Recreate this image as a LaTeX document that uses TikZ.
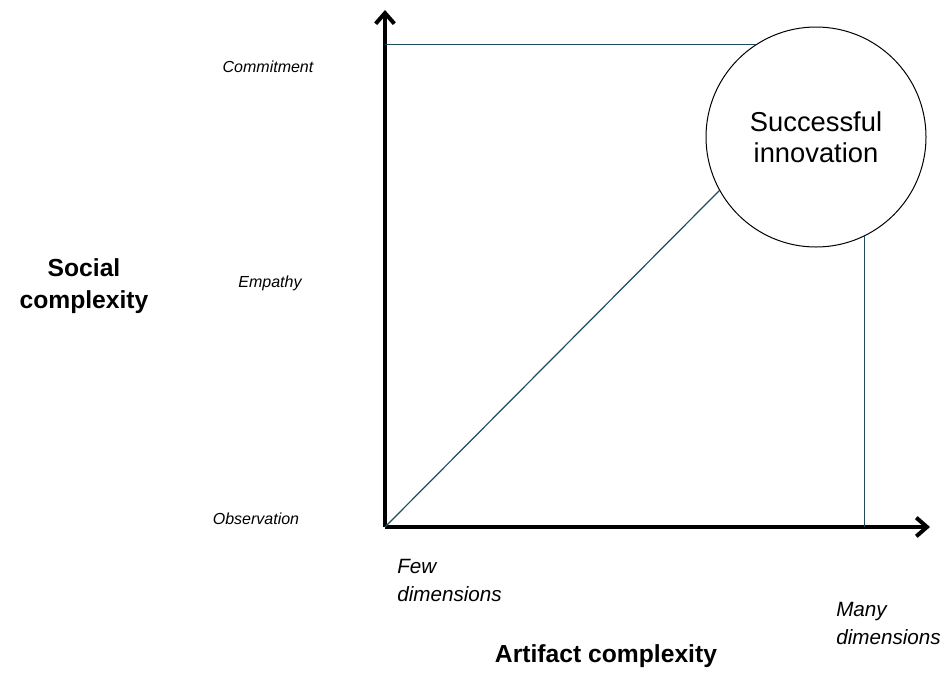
\documentclass[tikz,border=0pt]{standalone}
\usepackage{fontspec}
\setmainfont{Liberation Sans}
\usepackage{xcolor}
\usetikzlibrary{arrows.meta}
\usetikzlibrary{positioning}

\definecolor{lineteal}{RGB}{31,76,94}

\begin{document}
\begin{tikzpicture}[
			x=0.75pt, y=-0.75pt,
			axis/.style={line width=3pt, -{Straight Barb[length=8pt, width=14pt]}},
			guide/.style={line width=0.9pt, lineteal},
			level/.style={font=\fontsize{12}{15}\selectfont\itshape, inner sep=0pt},
			extent/.style={font=\fontsize{15.5}{21}\selectfont\itshape, inner sep=0pt, align=left, anchor=west},
			title/.style={font=\fontsize{18.5}{24}\selectfont\bfseries, align=center, inner sep=0pt}
		]

		\useasboundingbox (0,0) rectangle (949,672);

		% axes
		\coordinate (o) at (385,527);
		\coordinate (ytip) at (385,10);
		\coordinate (xtip) at (930,527);
		\draw[axis] (o) -- (ytip);
		\draw[axis] (o) -- (xtip);

		% goal circle
		\node[circle, draw, line width=0.75pt, minimum size=165pt, inner sep=0pt,
			align=center, font=\fontsize{20.5}{23}\selectfont] (succ) at (816,137)
			{Successful\\innovation};

		% guide lines to the circle
		\draw[guide] (succ.123) -- (succ.123 -| o);
		\draw[guide] (o) -- (succ.209);
		\draw[guide] (succ.296) -- (succ.296 |- o);

		% levels on the vertical axis
		\node[level] (commit) at (268,67) {Commitment};
		\node[level] (empathy) at (270,283) {Empathy};
		\node[level] (observe) at (256,519) {Observation};

		% levels on the horizontal axis
		\node[extent] (few) at (397,580) {Few\\dimensions};
		\node[extent] (many) at (836,623) {Many\\dimensions};

		% axis titles
		\node[title] (social) at (84,286) {Social\\complexity};
		\node[title] (artifact) at (606,656) {Artifact complexity};

	\end{tikzpicture}
\end{document}
